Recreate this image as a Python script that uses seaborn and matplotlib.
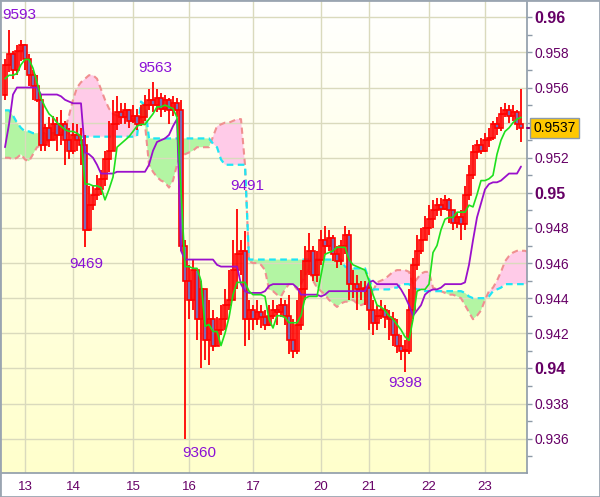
import numpy as np
import matplotlib
matplotlib.use("Agg")
import matplotlib.pyplot as plt
import matplotlib.transforms as mtransforms
from matplotlib.colors import LinearSegmentedColormap
from matplotlib.patches import Rectangle
from matplotlib.ticker import MultipleLocator
import seaborn as sns

#%% data (prices in 1/10000)

first_open = 9556

close_pips = [9573, 9579, 9570, 9581, 9584, 9576, 9567, 9561, 9553, 9527,
              9537, 9530, 9539, 9533, 9539, 9530, 9524, 9533, 9530, 9527,
              9479, 9493, 9499, 9502, 9508, 9519, 9524, 9539, 9546, 9543,
              9547, 9541, 9544, 9539, 9543, 9550, 9553, 9550, 9554, 9548,
              9553, 9547, 9551, 9547, 9470, 9450, 9439, 9456, 9428, 9445,
              9416, 9428, 9413, 9422, 9428, 9436, 9439, 9456, 9465, 9467,
              9428, 9433, 9428, 9432, 9429, 9425, 9430, 9433, 9432, 9436,
              9430, 9416, 9410, 9425, 9445, 9461, 9467, 9453, 9462, 9473,
              9470, 9474, 9465, 9461, 9470, 9476, 9448, 9448, 9445, 9444,
              9446, 9433, 9426, 9430, 9433, 9429, 9428, 9419, 9413, 9410,
              9410, 9433, 9459, 9467, 9473, 9480, 9485, 9490, 9493, 9491,
              9496, 9490, 9483, 9486, 9482, 9499, 9510, 9523, 9527, 9524,
              9530, 9531, 9539, 9537, 9545, 9547, 9544, 9546, 9539, 9537]

high_pips = [9576, 9593, 9581, 9584, 9587, 9585, 9579, 9570, 9567, 9556,
             9539, 9543, 9544, 9543, 9547, 9541, 9537, 9540, 9539, 9537,
             9533, 9504, 9504, 9510, 9513, 9524, 9541, 9553, 9555, 9551,
             9551, 9548, 9550, 9548, 9550, 9556, 9559, 9563, 9559, 9557,
             9556, 9554, 9555, 9554, 9553, 9473, 9459, 9462, 9456, 9450,
             9445, 9439, 9433, 9429, 9436, 9445, 9456, 9473, 9491, 9473,
             9478, 9439, 9436, 9439, 9436, 9433, 9436, 9439, 9436, 9440,
             9439, 9442, 9428, 9439, 9456, 9470, 9477, 9470, 9467, 9479,
             9481, 9479, 9476, 9470, 9473, 9481, 9479, 9456, 9453, 9450,
             9450, 9448, 9439, 9436, 9439, 9436, 9433, 9432, 9428, 9419,
             9416, 9445, 9463, 9476, 9480, 9487, 9493, 9496, 9497, 9497,
             9499, 9497, 9490, 9489, 9490, 9504, 9516, 9527, 9530, 9531,
             9534, 9537, 9541, 9543, 9549, 9551, 9550, 9550, 9547, 9559]

low_pips = [9553, 9569, 9565, 9567, 9575, 9570, 9561, 9553, 9552, 9524,
            9524, 9526, 9530, 9524, 9527, 9516, 9519, 9522, 9524, 9516,
            9469, 9478, 9490, 9496, 9499, 9504, 9512, 9524, 9536, 9539,
            9539, 9537, 9540, 9536, 9538, 9541, 9547, 9546, 9546, 9543,
            9546, 9539, 9544, 9543, 9467, 9360, 9428, 9433, 9416, 9400,
            9405, 9402, 9410, 9413, 9419, 9422, 9433, 9439, 9445, 9453,
            9413, 9416, 9422, 9425, 9423, 9422, 9424, 9428, 9425, 9429,
            9425, 9408, 9406, 9408, 9422, 9439, 9453, 9450, 9449, 9459,
            9465, 9467, 9461, 9457, 9459, 9465, 9439, 9440, 9433, 9439,
            9436, 9422, 9419, 9422, 9428, 9423, 9416, 9413, 9409, 9405,
            9398, 9408, 9428, 9456, 9465, 9473, 9476, 9480, 9487, 9487,
            9490, 9483, 9479, 9480, 9473, 9479, 9496, 9508, 9519, 9522,
            9523, 9526, 9530, 9533, 9535, 9543, 9540, 9541, 9536, 9529]

tenkan_pips = [9565, 9567, 9567, 9568, 9573, 9576, 9576, 9571, 9563, 9554,
               9549, 9545, 9543, 9540, 9538, 9536, 9535, 9535, 9534, 9532,
               9505, 9505, 9504, 9504, 9503, 9496, 9502, 9509, 9526, 9528,
               9530, 9532, 9535, 9538, 9539, 9539, 9542, 9545, 9549, 9549,
               9550, 9549, 9548, 9543, 9502, 9458, 9458, 9457, 9457, 9450,
               9424, 9425, 9421, 9421, 9413, 9420, 9429, 9442, 9449, 9449,
               9449, 9444, 9442, 9442, 9442, 9441, 9428, 9423, 9430, 9430,
               9429, 9426, 9426, 9426, 9430, 9440, 9441, 9441, 9441, 9453,
               9465, 9466, 9467, 9469, 9469, 9469, 9462, 9459, 9458, 9457,
               9456, 9450, 9442, 9436, 9435, 9433, 9430, 9428, 9425, 9422,
               9418, 9416, 9428, 9444, 9445, 9445, 9448, 9466, 9470, 9479,
               9485, 9486, 9486, 9489, 9489, 9489, 9493, 9492, 9499, 9507,
               9507, 9508, 9510, 9522, 9530, 9535, 9537, 9540, 9542, 9543]

kijun_pips = [9526, 9539, 9556, 9560, 9560, 9560, 9560, 9560, 9560, 9556,
              9556, 9556, 9556, 9556, 9555, 9553, 9552, 9551, 9551, 9551,
              9523, 9522, 9520, 9516, 9511, 9511, 9511, 9511, 9512, 9512,
              9512, 9512, 9512, 9512, 9512, 9512, 9516, 9524, 9529, 9530,
              9531, 9533, 9538, 9542, 9467, 9462, 9462, 9462, 9462, 9462,
              9462, 9462, 9462, 9459, 9458, 9458, 9458, 9458, 9458, 9448,
              9444, 9443, 9443, 9443, 9443, 9444, 9447, 9448, 9448, 9448,
              9448, 9448, 9448, 9446, 9442, 9442, 9442, 9442, 9442, 9441,
              9442, 9444, 9444, 9444, 9444, 9444, 9444, 9444, 9444, 9444,
              9444, 9449, 9450, 9448, 9448, 9448, 9448, 9448, 9448, 9445,
              9441, 9436, 9430, 9433, 9436, 9442, 9444, 9445, 9445, 9446,
              9448, 9448, 9448, 9448, 9448, 9449, 9459, 9473, 9486, 9494,
              9502, 9505, 9506, 9506, 9507, 9509, 9511, 9511, 9511, 9515]

# cloud, runs two bars past the last candle
span_a_pips = [9520, 9520, 9519, 9520, 9522, 9519, 9518, 9522, 9526, 9527,
               9528, 9530, 9530, 9532, 9534, 9536, 9544, 9553, 9560, 9563,
               9565, 9567, 9567, 9565, 9559, 9553, 9548, 9545, 9544, 9543,
               9543, 9543, 9542, 9542, 9542, 9539, 9516, 9512, 9509, 9507,
               9506, 9503, 9507, 9516, 9521, 9522, 9523, 9524, 9526, 9526,
               9526, 9526, 9532, 9538, 9539, 9540, 9540, 9541, 9542, 9542,
               9516, 9461, 9460, 9460, 9459, 9456, 9445, 9444, 9442, 9441,
               9445, 9448, 9448, 9445, 9448, 9453, 9457, 9450, 9446, 9444,
               9442, 9439, 9437, 9435, 9437, 9438, 9438, 9439, 9437, 9436,
               9437, 9438, 9444, 9449, 9450, 9451, 9453, 9455, 9456, 9456,
               9456, 9455, 9448, 9451, 9454, 9455, 9455, 9446, 9445, 9444,
               9443, 9442, 9442, 9441, 9440, 9436, 9432, 9428, 9430, 9433,
               9439, 9444, 9446, 9450, 9455, 9461, 9464, 9466, 9467, 9467,
               9467, 9466]

span_b_pips = [9547, 9547, 9544, 9540, 9537, 9535, 9535, 9534, 9534, 9534,
               9534, 9534, 9534, 9534, 9534, 9534, 9533, 9533, 9532, 9532,
               9532, 9532, 9532, 9532, 9532, 9532, 9532, 9532, 9532, 9532,
               9532, 9532, 9532, 9532, 9552, 9550, 9531, 9531, 9531, 9531,
               9531, 9531, 9531, 9531, 9531, 9531, 9531, 9531, 9531, 9531,
               9531, 9531, 9528, 9526, 9519, 9516, 9516, 9516, 9516, 9516,
               9516, 9462, 9462, 9462, 9462, 9462, 9462, 9462, 9462, 9462,
               9462, 9462, 9462, 9462, 9462, 9462, 9462, 9462, 9462, 9462,
               9462, 9462, 9462, 9462, 9462, 9458, 9457, 9457, 9457, 9457,
               9457, 9451, 9445, 9445, 9445, 9445, 9445, 9446, 9446, 9448,
               9448, 9448, 9446, 9445, 9445, 9444, 9444, 9444, 9444, 9444,
               9444, 9444, 9444, 9444, 9444, 9443, 9441, 9440, 9440, 9440,
               9440, 9441, 9444, 9445, 9446, 9448, 9448, 9448, 9448, 9448,
               9448, 9448]

# day labels and the bar where each day starts
day_labels = ['13', '14', '15', '16', '17', '20', '21', '22', '23']
day_bars = [5, 17, 32, 46, 62, 79, 91, 106, 120]

# 0.954 sits under the last-price tag, so its label stays blank
ytick_values = [0.936, 0.938, 0.940, 0.942, 0.944, 0.946, 0.948,
                0.950, 0.952, 0.954, 0.956, 0.958, 0.960]
ytick_labels = ['0.936', '0.938', '0.94', '0.942', '0.944', '0.946', '0.948',
                '0.95', '0.952', '', '0.956', '0.958', '0.96']

# swing highs / lows that get a label (bar index, which side)
swing_bars = [1, 37, 20, 58, 45, 100]
swing_side = ['high', 'high', 'low', 'high', 'low', 'low']

#%% prep

PIP = 10000.0
close = np.array(close_pips) / PIP
opn = np.array([first_open] + close_pips[:-1]) / PIP
high = np.maximum(np.array(high_pips) / PIP, np.maximum(opn, close))
low = np.minimum(np.array(low_pips) / PIP, np.minimum(opn, close))
tenkan = np.array(tenkan_pips) / PIP
kijun = np.array(kijun_pips) / PIP
span_a = np.array(span_a_pips) / PIP
span_b = np.array(span_b_pips) / PIP
bars = np.arange(len(close))
span_x = np.arange(len(span_a))

sns.set_style("white")
plt.rcParams['font.family'] = ['Liberation Sans', 'DejaVu Sans']

XMIN, XMAX = -1, 130.5
YMIN, YMAX = 0.934041, 0.960986
GRID = '#DADABD'
AXCOL = '#8E9BA8'
TXT = '#660066'

fig = plt.figure(figsize=(6.0, 4.97), dpi=100)
fig.patch.set_facecolor('white')
ax = fig.add_axes([1 / 600, 24 / 497, 526 / 600, 473 / 497])

# soft white -> yellow background
grad = np.linspace(0, 1, 256)[:, None]
bg = LinearSegmentedColormap.from_list('bg', ['#FFFFFF', '#FFFFE2', '#FFFFCC'])
ax.imshow(grad, extent=[XMIN, XMAX, YMIN, YMAX], origin='upper',
          aspect='auto', cmap=bg, zorder=0)

for yv in ytick_values:
    ax.axhline(yv, color=GRID, lw=1, zorder=1.5)
for xv in day_bars:
    ax.axvline(xv, color=GRID, lw=1, zorder=1.5)

# cloud
ax.fill_between(span_x, span_a, span_b, where=span_a >= span_b, interpolate=True,
                color='#FFCBE8', lw=0, zorder=1)
ax.fill_between(span_x, span_a, span_b, where=span_a < span_b, interpolate=True,
                color='#B3F5A3', lw=0, zorder=1)
sns.lineplot(x=span_x, y=span_a, ax=ax, color='#F09090', linewidth=1.5,
             linestyle=(0, (3, 2)), zorder=2)
sns.lineplot(x=span_x, y=span_b, ax=ax, color='#1EE6F5', linewidth=1.6,
             linestyle=(0, (3, 2)), zorder=2.1)

# candles
up = close >= opn
body_lo = np.minimum(opn, close)
body_h = np.maximum(np.abs(close - opn), 0.00003)
ax.vlines(bars, low, high, color='#FF0000', lw=1.3, zorder=3)
ax.bar(bars[up], body_h[up], bottom=body_lo[up], width=0.82,
       facecolor='none', edgecolor='#FF0000', linewidth=1.2, zorder=3.1)
ax.bar(bars[~up], body_h[~up], bottom=body_lo[~up], width=0.82,
       facecolor='#7A6DB6', edgecolor='#FF0000', linewidth=1.2, zorder=3.1)

# tenkan / kijun
sns.lineplot(x=bars, y=kijun, ax=ax, color='#9A10CC', linewidth=1.3, zorder=4)
sns.lineplot(x=bars, y=tenkan, ax=ax, color='#1EE01E', linewidth=1.2, zorder=4.1)

# swing labels
offsets = {1: (-7, 15, 'left'), 37: (2, 14, 'center'), 20: (1, -17, 'center'),
           58: (10, 23, 'center'), 45: (-3, -14, 'left'), 100: (0, -11, 'center')}
for b, side in zip(swing_bars, swing_side):
    yv = high[b] if side == 'high' else low[b]
    dx, dy, ha = offsets[b]
    ax.annotate(f"{int(round(yv * PIP))}", xy=(b, yv), xytext=(dx, dy),
                textcoords='offset pixels', ha=ha, va='center',
                fontsize=11, color='#8A10D6', zorder=6)

ax.set_xlim(XMIN, XMAX)
ax.set_ylim(YMIN, YMAX)
ax.set_xlabel('')
ax.set_ylabel('')

# axes / ticks
ax.yaxis.tick_right()
ax.set_yticks(ytick_values)
ax.set_yticklabels(ytick_labels)
ax.yaxis.set_minor_locator(MultipleLocator(0.001))
ax.tick_params(axis='y', which='both', direction='out', length=3.6, width=1,
               color=AXCOL, labelcolor=TXT, labelsize=10, pad=1.5)
for lab in ax.get_yticklabels():
    if len(lab.get_text()) == 4:
        lab.set_fontweight('bold')
        lab.set_fontsize(11.5)

ax.set_xticks(day_bars)
ax.set_xticklabels(day_labels)
ax.tick_params(axis='x', direction='out', length=3, width=1, color=AXCOL,
               labelcolor=TXT, labelsize=9.5, pad=3)

for s in ['left', 'top']:
    ax.spines[s].set_visible(False)
for s in ['right', 'bottom']:
    ax.spines[s].set_color(AXCOL)
    ax.spines[s].set_linewidth(1.2)

# last price tag
last = close[-1]
trans = mtransforms.blended_transform_factory(ax.transAxes, ax.transData)
ax.plot([1.0, 1.0 + 6 / 526], [last, last], transform=trans, color='#800080',
        lw=1.5, clip_on=False, zorder=9)
ax.text(1.0 + 6.5 / 526, last, f"{last:.4f}", transform=trans, ha='left',
        va='center', fontsize=10, color='black', zorder=10, clip_on=False,
        bbox=dict(boxstyle='square,pad=0.22', fc='#FFC800', ec='#8C9BAA', lw=1))

fig.patches.append(Rectangle((0, 0), 1, 1, transform=fig.transFigure,
                             fill=False, ec='#9AA5B1', lw=2))

fig.savefig('out.png', dpi=100)
